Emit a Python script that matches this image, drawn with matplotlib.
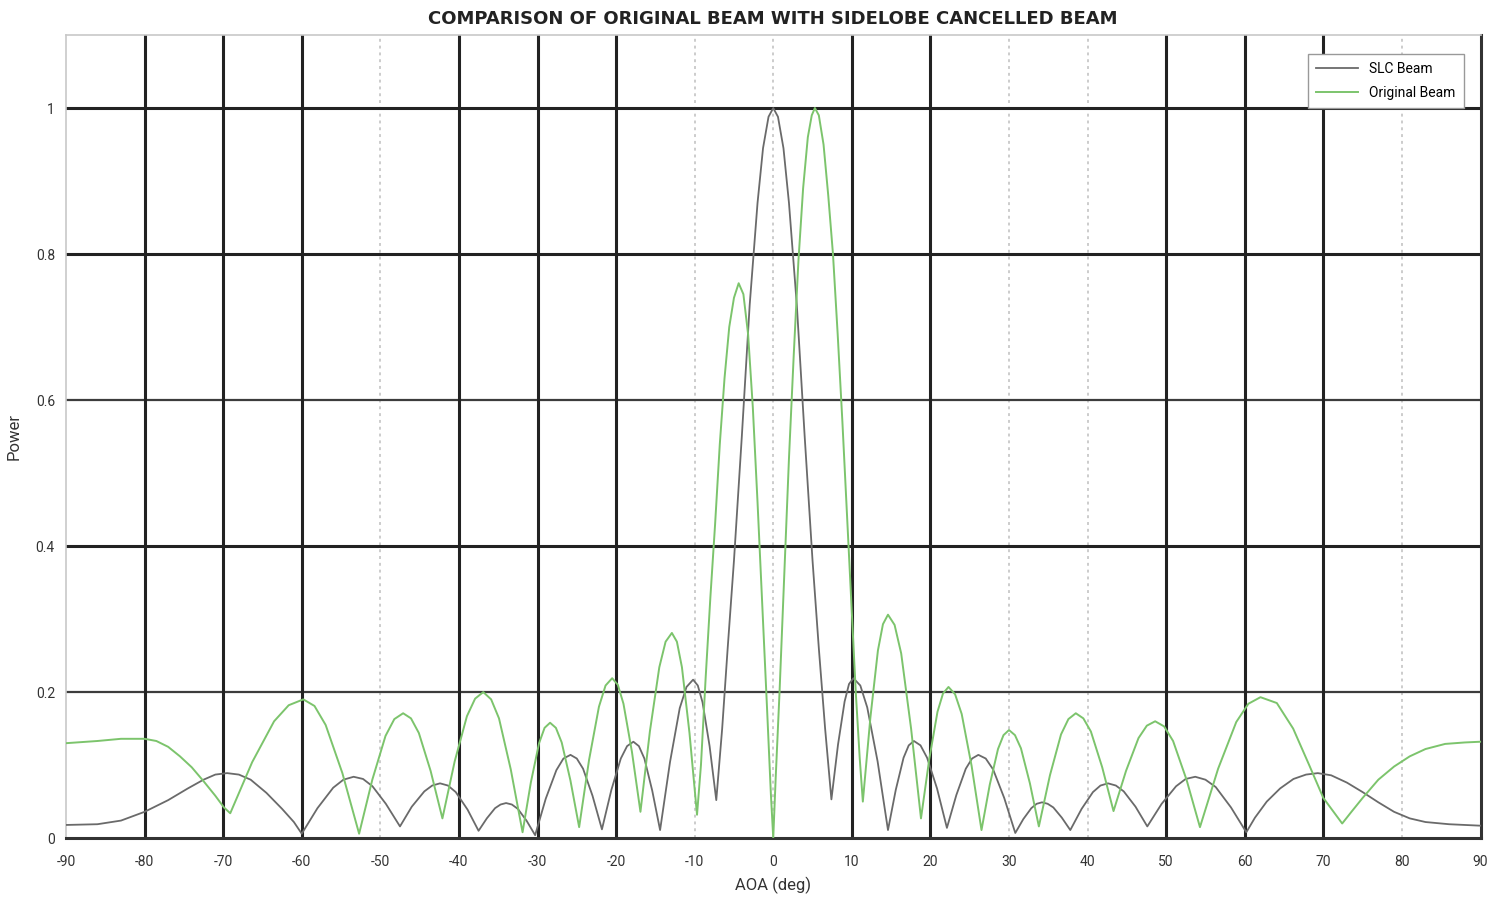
"""
Beam pattern comparison: original beam vs sidelobe-cancelled (SLC) beam.
"""

import matplotlib
matplotlib.use("Agg")
import matplotlib.pyplot as plt

# SLC beam
slc_aoa = [
    -90, -86, -83, -80, -77, -74.5, -72.5, -71, -69.5, -68, -66.5, -64.5, -62.5, -61, -60,
    -58.0, -56.0, -54.7, -53.4, -52.2, -51.0, -49.3, -47.5,
    -46.0, -44.4, -43.4, -42.4, -41.4, -40.4, -38.9, -37.5,
    -36.45, -35.4, -34.7, -34.0, -33.26, -32.5, -31.4, -30.3,
    -28.95, -27.6, -26.7, -25.8, -25.0, -24.2, -23.0, -21.8,
    -20.6, -19.4, -18.6, -17.8, -17.1, -16.4, -15.4, -14.4,
    -13.14, -11.9, -11.04, -10.2, -9.6, -9.0, -8.1, -7.25,
    -6.5, -5.8, -5, -4, -3, -2, -1.3, -0.6, 0, 0.6, 1.3, 2, 3, 4, 5, 5.8, 6.6, 7.4,
    8.24, 9.08, 9.64, 10.2, 11.08, 11.96, 13.28, 14.6,
    15.59, 16.58, 17.24, 17.9, 18.74, 19.58, 20.84, 22.1,
    23.3, 24.5, 25.3, 26.1, 27.04, 27.98, 29.39, 30.8,
    31.82, 32.84, 33.52, 34.2, 34.92, 35.64, 36.72, 37.8,
    39.24, 40.68, 41.64, 42.6, 43.6, 44.6, 46.1, 47.6,
    49.43, 51.26, 52.48, 53.7, 55.0, 56.3, 58.25, 60.2,
    61.3, 62.8, 64.5, 66.2, 67.8, 69.3, 71, 73, 75, 77, 79, 81, 83, 86, 90,
]
slc_power = [
    0.018, 0.019, 0.024, 0.036, 0.052, 0.068, 0.08, 0.087, 0.089, 0.087, 0.08, 0.062, 0.04, 0.022, 0.006,
    0.041, 0.069, 0.080, 0.084, 0.081, 0.071, 0.047, 0.016,
    0.043, 0.064, 0.072, 0.075, 0.072, 0.063, 0.039, 0.01,
    0.027, 0.041, 0.046, 0.048, 0.046, 0.040, 0.024, 0.004,
    0.054, 0.093, 0.109, 0.114, 0.109, 0.095, 0.058, 0.012,
    0.066, 0.109, 0.126, 0.132, 0.126, 0.109, 0.065, 0.011,
    0.104, 0.178, 0.207, 0.217, 0.209, 0.186, 0.126, 0.052,
    0.15, 0.26, 0.38, 0.55, 0.73, 0.87, 0.945, 0.988, 1.0, 0.988, 0.945, 0.87, 0.73, 0.55, 0.38, 0.26, 0.15, 0.053,
    0.128, 0.187, 0.211, 0.219, 0.209, 0.179, 0.105, 0.011,
    0.066, 0.110, 0.127, 0.133, 0.127, 0.110, 0.068, 0.014,
    0.059, 0.095, 0.109, 0.114, 0.109, 0.094, 0.055, 0.007,
    0.026, 0.041, 0.047, 0.049, 0.047, 0.042, 0.028, 0.011,
    0.040, 0.063, 0.072, 0.075, 0.072, 0.064, 0.043, 0.016,
    0.047, 0.071, 0.081, 0.084, 0.080, 0.070, 0.042, 0.008,
    0.028, 0.05, 0.068, 0.081, 0.087, 0.089, 0.086, 0.076, 0.063, 0.049, 0.036, 0.027, 0.022, 0.019, 0.017,
]

# Original beam
orig_aoa = [
    -90, -86, -83, -80, -78.5, -77, -75.5, -74, -72.5, -71, -69.9, -69.1,
    -66.31, -63.52, -61.66, -59.8, -58.38, -56.96, -54.83, -52.7,
    -51.02, -49.34, -48.22, -47.1, -46.1, -45.1, -43.6, -42.1,
    -40.54, -38.98, -37.94, -36.9, -35.9, -34.9, -33.4, -31.9,
    -30.85, -29.8, -29.1, -28.4, -27.66, -26.92, -25.81, -24.7,
    -23.44, -22.18, -21.34, -20.5, -19.78, -19.06, -17.98, -16.9,
    -15.7, -14.5, -13.7, -12.9, -12.26, -11.62, -10.66, -9.7,
    -9.2, -8.6, -8.0, -7.4, -6.8, -6.2, -5.6, -5.0, -4.4, -3.8, -3.2, -2.6, -2.0, -1.4, -0.8, -0.3, 0,
    0.3, 0.8, 1.4, 2.0, 2.6, 3.2, 3.8, 4.4, 4.9, 5.3, 5.8, 6.4, 7.0, 7.6, 8.2, 8.8, 9.4, 9.9, 10.5, 11.0, 11.4,
    12.36, 13.32, 13.96, 14.6, 15.44, 16.28, 17.54, 18.8,
    19.85, 20.9, 21.6, 22.3, 23.14, 23.98, 25.24, 26.5,
    27.55, 28.6, 29.3, 30.0, 30.76, 31.52, 32.66, 33.8,
    35.21, 36.62, 37.56, 38.5, 39.46, 40.42, 41.86, 43.3,
    44.89, 46.48, 47.54, 48.6, 49.74, 50.88, 52.59, 54.3,
    56.61, 58.92, 60.46, 62.0, 64.08, 66.16, 68.2, 70.0, 72.4,
    73.5, 75, 77, 79, 81, 83, 85.5, 88, 90,
]
orig_power = [
    0.13, 0.133, 0.136, 0.136, 0.133, 0.125, 0.112, 0.097, 0.078, 0.058, 0.042, 0.034,
    0.104, 0.160, 0.182, 0.19, 0.181, 0.155, 0.089, 0.006,
    0.080, 0.140, 0.163, 0.171, 0.164, 0.144, 0.092, 0.027,
    0.105, 0.167, 0.191, 0.2, 0.190, 0.164, 0.094, 0.008,
    0.076, 0.130, 0.151, 0.158, 0.151, 0.131, 0.079, 0.015,
    0.107, 0.180, 0.209, 0.219, 0.210, 0.184, 0.118, 0.036,
    0.146, 0.234, 0.269, 0.281, 0.269, 0.234, 0.144, 0.032,
    0.1, 0.22, 0.33, 0.43, 0.54, 0.63, 0.7, 0.74, 0.76, 0.745, 0.69, 0.59, 0.46, 0.32, 0.18, 0.06, 0.0,
    0.08, 0.2, 0.36, 0.52, 0.66, 0.79, 0.89, 0.96, 0.99, 1.0, 0.99, 0.95, 0.88, 0.8, 0.69, 0.57, 0.44, 0.33, 0.2, 0.11, 0.05,
    0.165, 0.257, 0.293, 0.306, 0.292, 0.253, 0.150, 0.027,
    0.108, 0.173, 0.198, 0.207, 0.197, 0.170, 0.099, 0.011,
    0.073, 0.122, 0.141, 0.148, 0.141, 0.123, 0.075, 0.016,
    0.086, 0.142, 0.163, 0.171, 0.164, 0.146, 0.097, 0.037,
    0.092, 0.137, 0.154, 0.16, 0.153, 0.133, 0.080, 0.015,
    0.095, 0.159, 0.184, 0.193, 0.185, 0.15, 0.1, 0.055, 0.02,
    0.035, 0.055, 0.08, 0.098, 0.112, 0.122, 0.129, 0.131, 0.132,
]

x_ticks = list(range(-90, 91, 10))
y_ticks = [0, 0.2, 0.4, 0.6, 0.8, 1]
y_tick_labels = ["0", "0.2", "0.4", "0.6", "0.8", "1"]

# grid lines in the reference are drawn unevenly: some heavy, some faint
heavy_x = [-80, -70, -60, -40, -30, -20, 10, 20, 50, 60, 70]
faint_x = [-50, -10, 0, 30, 40, 80]
heavy_y = [0.4, 0.8, 1.0]
mid_y = [0.2, 0.6]

plt.rcParams["font.family"] = ["Roboto", "DejaVu Sans"]
plt.rcParams["axes.unicode_minus"] = False

fig = plt.figure(figsize=(15, 9.09), dpi=100)
ax = fig.add_axes([0.044, 0.078, 0.943, 0.8835])

for xv in faint_x:
    ax.axvline(xv, color="#cccccc", lw=1.4, ls=(0, (1.5, 2)), zorder=1)
for yv in mid_y:
    ax.axhline(yv, color="#3c3c3c", lw=1.6, zorder=1)
for xv in heavy_x:
    ax.axvline(xv, color="#222222", lw=2.2, zorder=2)
for yv in heavy_y:
    ax.axhline(yv, color="#222222", lw=2.2, zorder=2)

ax.plot(slc_aoa, slc_power, color="#6a6a6a", lw=1.3, label="SLC Beam", zorder=3)
ax.plot(orig_aoa, orig_power, color="#7cc46c", lw=1.4, label="Original Beam", zorder=4)

ax.set_xlim(-90, 90)
ax.set_ylim(0, 1.1)
ax.set_xticks(x_ticks)
ax.set_yticks(y_ticks)
ax.set_yticklabels(y_tick_labels)
ax.tick_params(length=0, labelsize=10, colors="#333333")
ax.tick_params(axis="x", pad=12)
ax.tick_params(axis="y", pad=8)

for side in ["left", "top"]:
    ax.spines[side].set_color("#c8c8c8")
    ax.spines[side].set_linewidth(1.2)
for side in ["bottom", "right"]:
    ax.spines[side].set_color("#333333")
    ax.spines[side].set_linewidth(2.2)

ax.set_title("COMPARISON OF ORIGINAL BEAM WITH SIDELOBE CANCELLED BEAM",
             fontsize=13, fontweight="bold", color="#222222", pad=8,
             family=["DejaVu Sans"])
ax.set_xlabel("AOA (deg)", fontsize=12, color="#333333", labelpad=6)
ax.set_ylabel("Power", fontsize=12, color="#333333", labelpad=10)

leg = ax.legend(loc="upper right", fontsize=10, frameon=True, fancybox=False,
                handlelength=3, borderpad=0.6, labelspacing=0.7,
                bbox_to_anchor=(0.993, 0.985))
leg.get_frame().set_edgecolor("#999999")
leg.get_frame().set_linewidth(1.0)
leg.get_frame().set_alpha(1.0)
leg.set_zorder(10)

fig.savefig("out.png", dpi=100)
plt.close(fig)
